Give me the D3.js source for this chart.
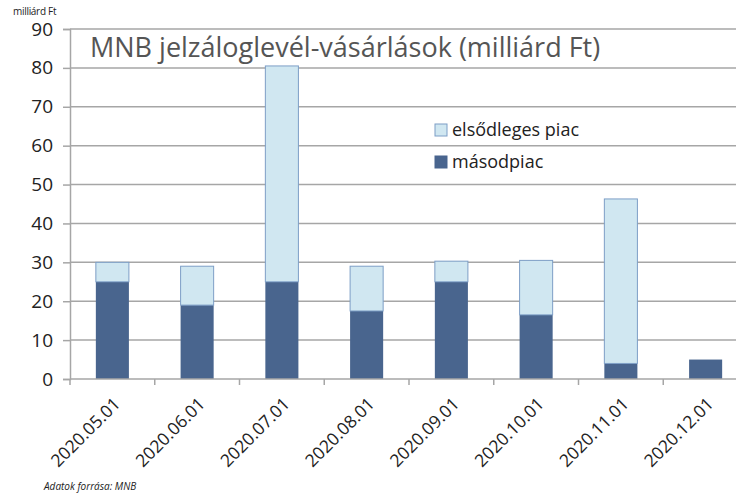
<!DOCTYPE html>
<html>
<head>
<meta charset="utf-8">
<style>
body{margin:0;background:#fff;}
text{font-family:"Open Sans",sans-serif;}
</style>
</head>
<body>
<script src="https://cdn.jsdelivr.net/npm/d3@7"></script>
<script>
var categories=["2020.05.01","2020.06.01","2020.07.01","2020.08.01","2020.09.01","2020.10.01","2020.11.01","2020.12.01"];
var masodpiac=[25,19,25,17.5,25,16.5,4,5];
var elsodleges=[5,10,55.5,11.5,5.3,14,42.3,0];
var yTicks=[0,10,20,30,40,50,60,70,80,90];

var width=736,height=495;
var svg=d3.select("body").append("svg")
	.attr("width",width)
	.attr("height",height);

var x=d3.scaleBand().domain(categories).range([70,748]).paddingInner(0.61).paddingOuter(0.305);
var y=d3.scaleLinear().domain([0,90]).range([379,29]);

//gridlines
svg.selectAll(".grid").data(yTicks.slice(1)).enter().append("line")
	.attr("x1",70).attr("x2",748)
	.attr("y1",function(d){return y(d);}).attr("y2",function(d){return y(d);})
	.attr("stroke","#a6a6a6").attr("stroke-width",1.5);

//y axis
var yAxis=svg.append("g").attr("transform","translate(70,0)")
	.call(d3.axisLeft(y).tickValues(yTicks).tickSize(7).tickPadding(10));
yAxis.select(".domain").attr("stroke","#a6a6a6").attr("stroke-width",1.5);
yAxis.selectAll(".tick line").attr("stroke","#a6a6a6").attr("stroke-width",1.5);
yAxis.selectAll("text").attr("font-size","19px").attr("fill","#222").attr("font-family","Open Sans");

//bars
var stack=categories.map(function(c,i){return {c:c,m:masodpiac[i],e:elsodleges[i]};});
svg.selectAll(".mas").data(stack).enter().append("rect")
	.attr("x",function(d){return x(d.c);})
	.attr("width",x.bandwidth())
	.attr("y",function(d){return y(d.m);})
	.attr("height",function(d){return y(0)-y(d.m);})
	.attr("fill","#49658e");
svg.selectAll(".els").data(stack.filter(function(d){return d.e>0;})).enter().append("rect")
	.attr("x",function(d){return x(d.c);})
	.attr("width",x.bandwidth())
	.attr("y",function(d){return y(d.m+d.e);})
	.attr("height",function(d){return y(d.m)-y(d.m+d.e);})
	.attr("fill","#d0e7f1").attr("stroke","#7d9ec6").attr("stroke-width",1);

//x axis
var step=x.step();
var xg=svg.append("g");
xg.append("line").attr("x1",70).attr("x2",748).attr("y1",379).attr("y2",379)
	.attr("stroke","#a6a6a6").attr("stroke-width",1.5);
xg.selectAll(".xt").data(d3.range(categories.length+1)).enter().append("line")
	.attr("x1",function(i){return 70+i*step;}).attr("x2",function(i){return 70+i*step;})
	.attr("y1",379).attr("y2",385)
	.attr("stroke","#a6a6a6").attr("stroke-width",1.5);
xg.selectAll(".xl").data(categories).enter().append("text")
	.attr("text-anchor","end")
	.attr("font-size","17.5px").attr("fill","#222")
	.attr("transform",function(d){return "translate("+(x(d)+x.bandwidth()/2+9)+",405) rotate(-45)";})
	.text(function(d){return d;});

//title
svg.append("text").attr("x",90).attr("y",57)
	.attr("font-size","27px").attr("fill","#555")
	.text("MNB jelzáloglevél-vásárlások (milliárd Ft)");
svg.append("text").attr("x",13).attr("y",15)
	.attr("font-size","10px").attr("fill","#222").attr("letter-spacing","-0.3")
	.text("milliárd Ft");

//legend
var legend=[{t:"elsődleges piac",f:"#d0e7f1",s:"#7d9ec6"},{t:"másodpiac",f:"#49658e",s:"#49658e"}];
var lg=svg.selectAll(".lg").data(legend).enter().append("g")
	.attr("transform",function(d,i){return "translate(435,"+(124+i*32)+")";});
lg.append("rect").attr("width",12).attr("height",12)
	.attr("fill",function(d){return d.f;}).attr("stroke",function(d){return d.s;});
lg.append("text").attr("x",17).attr("y",12).attr("font-size","18px").attr("fill","#222")
	.text(function(d){return d.t;});

svg.append("text").attr("x",44).attr("y",490)
	.attr("font-size","10px").attr("font-style","italic").attr("fill","#222")
	.text("Adatok forrása: MNB");
</script>
</body>
</html>
